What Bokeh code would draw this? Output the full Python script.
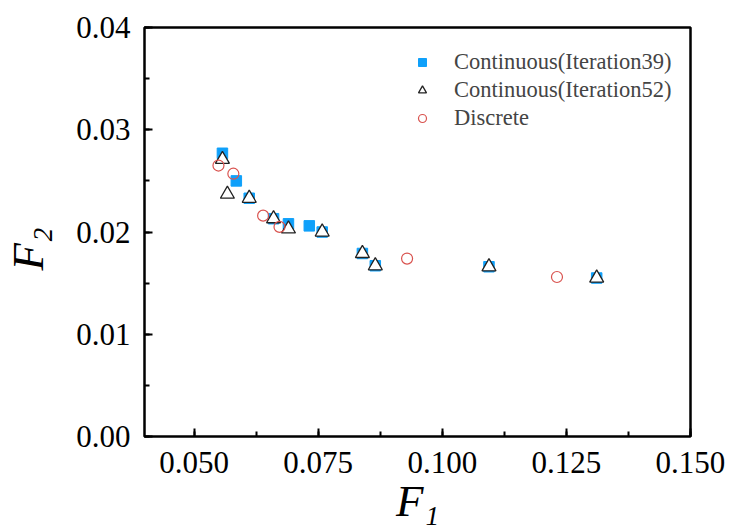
from bokeh.plotting import figure
from bokeh.models import (Range1d, SingleIntervalTicker, PrintfTickFormatter,
                          Legend, LegendItem)
from bokeh.embed import file_html
from bokeh.resources import INLINE

# Continuous (Iteration39)
c39_f1 = [0.0557, 0.0585, 0.0611, 0.0660, 0.0690, 0.0732, 0.0758, 0.0839, 0.0865, 0.1094, 0.1311]
c39_f2 = [0.0277, 0.0250, 0.0233, 0.0213, 0.0208, 0.0206, 0.0200, 0.0179, 0.0167, 0.0166, 0.0155]
# Continuous (Iteration52)
c52_f1 = [0.0557, 0.0567, 0.0611, 0.0660, 0.0690, 0.0758, 0.0839, 0.0865, 0.1094, 0.1311]
c52_f2 = [0.0271, 0.0237, 0.0233, 0.0213, 0.0203, 0.0200, 0.0179, 0.0167, 0.0166, 0.0155]
# Discrete
d_f1 = [0.0549, 0.0579, 0.0639, 0.0672, 0.0929, 0.1231]
d_f2 = [0.0265, 0.0257, 0.0216, 0.0205, 0.0174, 0.0156]

labels = ["Continuous(Iteration39)", "Continuous(Iteration52)", "Discrete"]
x_title = "F\u2081"
y_title = "F\u2082\u00a0\u00a0\u00a0"

FONT = "Liberation Serif"

p = figure(width=730, height=529, output_backend="svg", toolbar_location=None,
           x_range=Range1d(0.04, 0.1500001), y_range=Range1d(0.0, 0.0400001),
           min_border_left=143, min_border_right=40, min_border_top=27,
           min_border_bottom=93)
p.background_fill_color = "white"
p.border_fill_color = "white"
p.grid.visible = False
p.outline_line_color = "black"
p.outline_line_width = 2.5

r1 = p.scatter(c39_f1, c39_f2, marker="square", size=10.5, fill_color="#0FA0FA",
               line_color="#0FA0FA")
r2 = p.scatter(c52_f1, c52_f2, marker="triangle", size=14, fill_color="white",
               line_color="#222222", line_width=1.3)
r3 = p.scatter(d_f1, d_f2, marker="circle", size=11, fill_color=None,
               line_color="#D9534F", line_width=1.2)

for ax in (p.xaxis[0], p.yaxis[0]):
    ax.axis_line_color = None
    ax.major_tick_in = 8
    ax.major_tick_out = 0
    ax.minor_tick_in = 5
    ax.minor_tick_out = 0
    ax.major_tick_line_width = 2
    ax.minor_tick_line_width = 2
    ax.major_label_text_font = FONT
    ax.major_label_text_font_size = "31px"
    ax.major_label_text_color = "black"
    ax.axis_label_text_font = FONT
    ax.axis_label_text_font_style = "italic"
    ax.axis_label_text_font_size = "45px"
    ax.axis_label_text_color = "black"

p.xaxis[0].ticker = SingleIntervalTicker(interval=0.025, num_minor_ticks=2)
p.yaxis[0].ticker = SingleIntervalTicker(interval=0.01, num_minor_ticks=2)
p.xaxis[0].formatter = PrintfTickFormatter(format="%.3f")
p.yaxis[0].formatter = PrintfTickFormatter(format="%.2f")
p.xaxis[0].major_label_standoff = 15
p.yaxis[0].major_label_standoff = 14
p.xaxis[0].axis_label = x_title
p.yaxis[0].axis_label = y_title
p.xaxis[0].axis_label_standoff = 0
p.yaxis[0].axis_label_standoff = 20

legend = Legend(items=[LegendItem(label=labels[0], renderers=[r1]),
                       LegendItem(label=labels[1], renderers=[r2]),
                       LegendItem(label=labels[2], renderers=[r3])],
                location=(268, 305), border_line_color=None,
                background_fill_alpha=0, padding=0, margin=0, spacing=2,
                glyph_width=20, glyph_height=26, label_height=26,
                label_standoff=22, label_text_font=FONT,
                label_text_font_size="22.5px")
p.add_layout(legend, "center")

open("out.html", "w").write(file_html(p, INLINE))
